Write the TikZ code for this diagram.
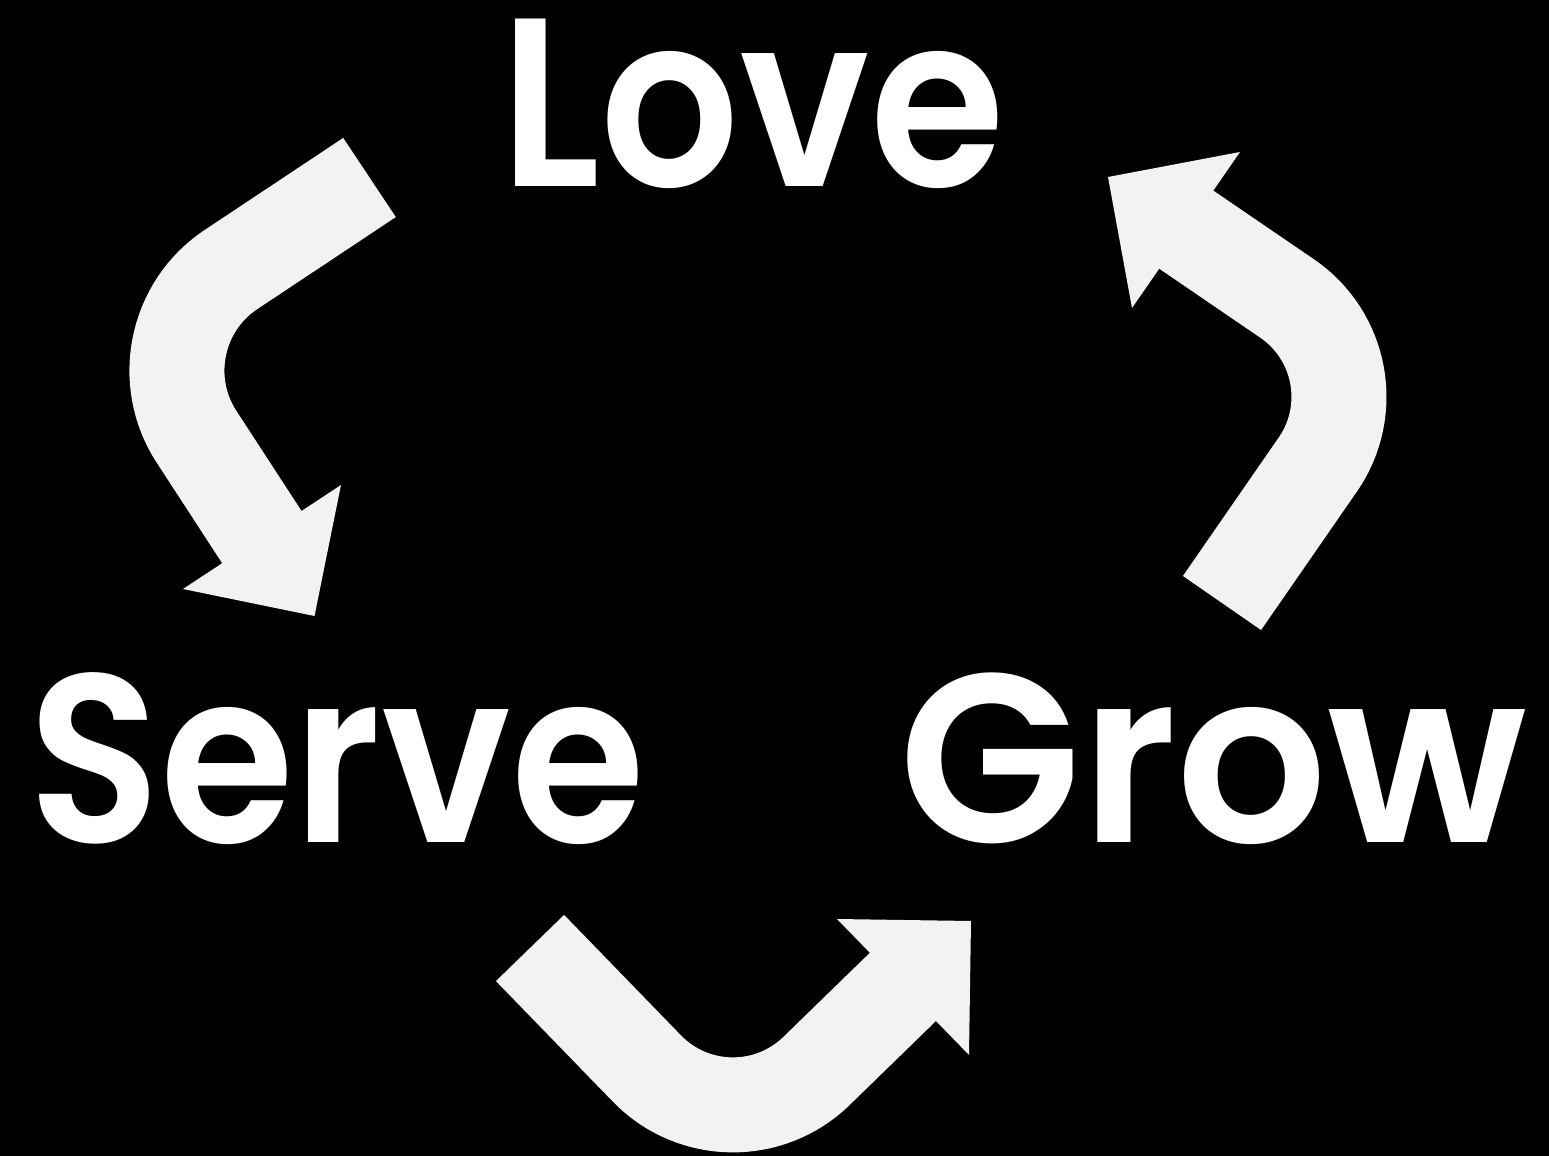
\documentclass[tikz,border=0pt]{standalone}
\usepackage{fontspec}
\newfontfamily\wordfont{Poppins SemiBold}
\definecolor{arrowgrey}{HTML}{F2F2F2}
\tikzset{
  shaft/.style={draw=arrowgrey, line width=47.5pt, rounded corners=60pt, line cap=butt},
  head/.style={fill=arrowgrey, draw=none},
  word/.style={text=white, inner sep=0pt, anchor=base, font=\wordfont\fontsize{120}{120}\selectfont}
}
\begin{document}
\begin{tikzpicture}[x=0.5pt,y=-0.5pt]
\fill[black] (0,0) rectangle (1549,1156);
\useasboundingbox (0,0) rectangle (1549,1156);
% words
\node[word] (love) at (752.5,187) {\scalebox{0.908}[1]{Love}};
\node[word] (serve) at (336.5,842) {\scalebox{0.903}[1]{Serve}};
\node[word] (grow) at (1213.5,842) {\scalebox{0.986}[1]{Grow}};
% arrow 1: Love -> Serve
\coordinate (a1s) at (369.5,177.5);
\coordinate (a1c) at (131,336);
\coordinate (a1e) at (267,545);
\coordinate (a1l) at (183,589);
\coordinate (a1t) at (314.5,616);
\coordinate (a1r) at (341,485);
\draw[shaft] (a1s) -- (a1c) -- (a1e);
\fill[head] (a1l) -- (a1t) -- (a1r) -- cycle;
% arrow 2: Grow -> Love
\coordinate (a2s) at (1222,603);
\coordinate (a2c) at (1386,366);
\coordinate (a2e) at (1178,224);
\coordinate (a2l) at (1240,152);
\coordinate (a2t) at (1108,177);
\coordinate (a2r) at (1132,308);
\draw[shaft] (a2s) -- (a2c) -- (a2e);
\fill[head] (a2l) -- (a2t) -- (a2r) -- cycle;
% arrow 3: Serve -> Grow
\coordinate (a3s) at (530,948);
\coordinate (a3c) at (730.5,1154.6);
\coordinate (a3e) at (910,980);
\coordinate (a3l) at (837,919);
\coordinate (a3t) at (971,921);
\coordinate (a3r) at (969,1055);
\draw[shaft] (a3s) -- (a3c) -- (a3e);
\fill[head] (a3l) -- (a3t) -- (a3r) -- cycle;
\end{tikzpicture}
\end{document}
